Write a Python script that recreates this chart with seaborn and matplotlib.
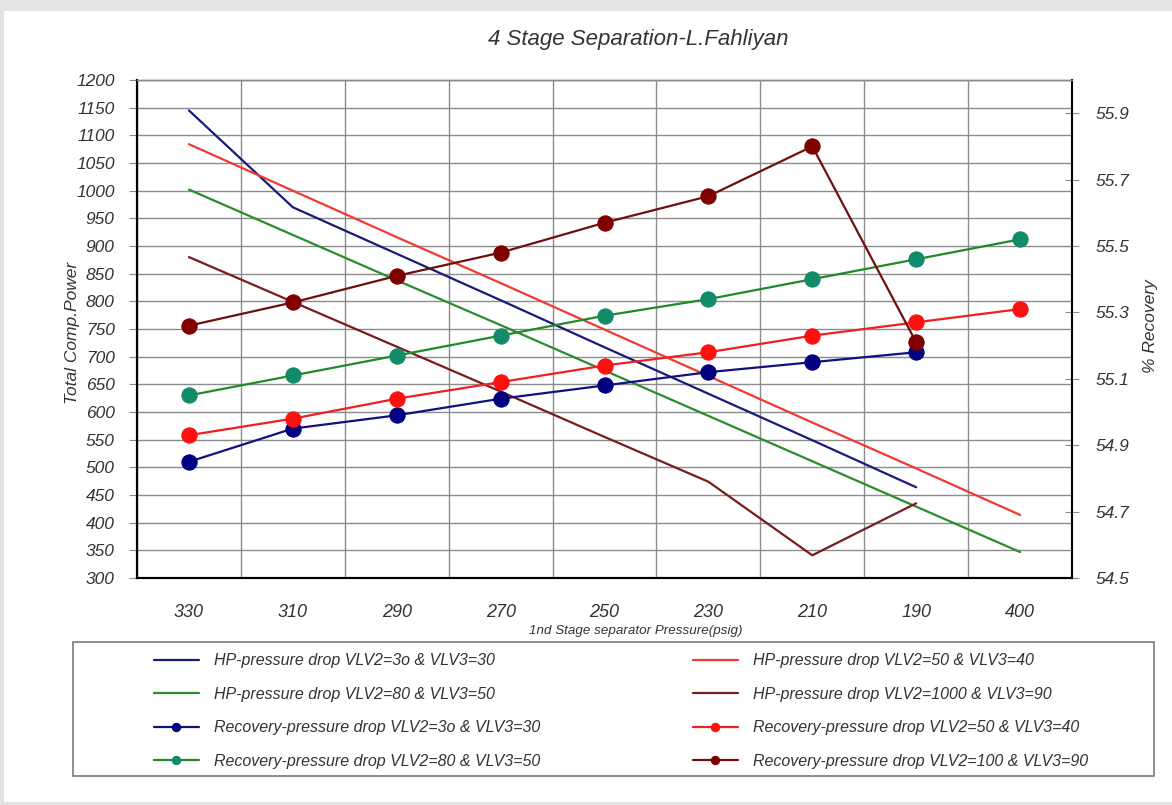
import numpy as np
import matplotlib
matplotlib.use("Agg")
import matplotlib.pyplot as plt
import matplotlib.patches as mpatches
import seaborn as sns

# ---- data ----
pressure_labels = ["330", "310", "290", "270", "250", "230", "210", "190", "400"]

# Total Comp. Power (left axis)
hp_30_30 = [1145, 970, 886, 802, 717, 633, 549, 464, np.nan]
hp_50_40 = [1084, 1000, 916, 833, 749, 665, 581, 498, 414]
hp_80_50 = [1002, 920, 838, 757, 675, 593, 511, 429, 347]
hp_1000_90 = [880, 799, 718, 637, 555, 474, 341, 435, np.nan]

# % Recovery (right axis)
rec_30_30 = [54.85, 54.95, 54.99, 55.04, 55.08, 55.12, 55.15, 55.18, np.nan]
rec_50_40 = [54.93, 54.98, 55.04, 55.09, 55.14, 55.18, 55.23, 55.27, 55.31]
rec_80_50 = [55.05, 55.11, 55.17, 55.23, 55.29, 55.34, 55.40, 55.46, 55.52]
rec_100_90 = [55.26, 55.33, 55.41, 55.48, 55.57, 55.65, 55.80, 55.21, np.nan]

# ---- style ----
sns.set_style("white")
plt.rcParams["font.family"] = ["Liberation Sans", "DejaVu Sans"]
TXT = "#333333"
GRID = "#8c8c8c"

W, H = 1172, 805
fig = plt.figure(figsize=(W / 100, H / 100), dpi=100, facecolor="#e3e3e3")
fig.patches.append(mpatches.Rectangle((4 / W, 1 - 802 / H), 1, (802 - 11) / H,
                                      transform=fig.transFigure, facecolor="white",
                                      edgecolor="none", zorder=-10))

ax = fig.add_axes([137 / W, 1 - 578 / H, (1072 - 137) / W, (578 - 80) / H])
ax2 = ax.twinx()

x = np.arange(len(pressure_labels))

hp_series = [
    (hp_30_30, "#1a1a7a", "HP-pressure drop VLV2=3o & VLV3=30"),
    (hp_80_50, "#2a8c2a", "HP-pressure drop VLV2=80 & VLV3=50"),
    (hp_50_40, "#f03a32", "HP-pressure drop VLV2=50 & VLV3=40"),
    (hp_1000_90, "#7a1c1c", "HP-pressure drop VLV2=1000 & VLV3=90"),
]
rec_series = [
    (rec_30_30, "#101080", "#000080", "Recovery-pressure drop VLV2=3o & VLV3=30"),
    (rec_80_50, "#1f8a2a", "#138a6a", "Recovery-pressure drop VLV2=80 & VLV3=50"),
    (rec_50_40, "#f02020", "#ff1010", "Recovery-pressure drop VLV2=50 & VLV3=40"),
    (rec_100_90, "#6e1010", "#800000", "Recovery-pressure drop VLV2=100 & VLV3=90"),
]

handles = {}
for vals, col, lab in hp_series:
    sns.lineplot(x=x, y=vals, ax=ax, color=col, linewidth=1.6, legend=False)
    handles[lab] = ax.lines[-1]
for vals, lcol, mcol, lab in rec_series:
    sns.lineplot(x=x, y=vals, ax=ax2, color=lcol, linewidth=1.6, marker="o",
                 markersize=11, markerfacecolor=mcol, markeredgecolor=mcol,
                 legend=False)
    handles[lab] = ax2.lines[-1]

# ---- axes ----
ax.set_xlim(-0.5, len(pressure_labels) - 0.5)
ax.set_ylim(300, 1200)
ax.set_yticks(np.arange(300, 1201, 50))
ax.set_xticks(x)
ax.set_xticklabels(pressure_labels, fontstyle="italic", fontsize=13, color=TXT)
ax.set_xticks(np.arange(-0.5, len(pressure_labels), 1), minor=True)
ax.tick_params(axis="x", which="major", length=0, pad=19)
ax.tick_params(axis="x", which="minor", length=5, direction="out", color="black")
ax.tick_params(axis="y", length=6, direction="out", color=GRID, pad=10,
               labelsize=12.5, labelcolor=TXT)
for t in ax.get_yticklabels():
    t.set_fontstyle("italic")

ax.yaxis.grid(True, color=GRID, linewidth=1)
ax.xaxis.grid(True, which="minor", color=GRID, linewidth=1)
ax.xaxis.grid(False, which="major")
ax.set_axisbelow(True)

ax2.set_ylim(54.5, 56.0)
ax2.set_yticks(np.round(np.arange(54.5, 55.91, 0.2), 1))
ax2.tick_params(axis="y", length=10, direction="inout", color=GRID, pad=12,
                labelsize=12.5, labelcolor=TXT)
for t in ax2.get_yticklabels():
    t.set_fontstyle("italic")
ax2.grid(False)

for a in (ax, ax2):
    for s in ("left", "bottom", "right"):
        a.spines[s].set_color("black")
        a.spines[s].set_linewidth(1.5)
    a.spines["top"].set_color(GRID)
    a.spines["top"].set_linewidth(1)
ax.spines["right"].set_visible(False)

# ---- texts ----
fig.text(638 / W, 1 - 40 / H, "4 Stage Separation-L.Fahliyan", ha="center", va="center",
         fontsize=16, fontstyle="italic", color=TXT)
fig.text(636 / W, 1 - 631 / H, "1nd Stage separator Pressure(psig)", ha="center",
         va="center", fontsize=9.6, fontstyle="italic", color=TXT)
fig.text(73 / W, 1 - 333 / H, "Total Comp.Power", ha="center", va="center",
         rotation=90, fontsize=12.5, fontstyle="italic", color=TXT)
fig.text(1150 / W, 1 - 326 / H, "% Recovery", ha="center", va="center",
         rotation=90, fontsize=12.5, fontstyle="italic", color=TXT)

# ---- legend ----
fig.patches.append(mpatches.Rectangle((73 / W, 1 - 776 / H), (1154 - 73) / W, (776 - 642) / H,
                                      transform=fig.transFigure, facecolor="white",
                                      edgecolor="#7a7a7a", linewidth=1.2, zorder=-5))
labels = list(handles.keys())
col1 = [labels[0], labels[1], labels[4], labels[5]]
col2 = [labels[2], labels[3], labels[6], labels[7]]
leg_kw = dict(frameon=False, loc="upper left", handlelength=2.8, handletextpad=0.95,
              labelspacing=1.15, borderaxespad=0, borderpad=0,
              prop={"style": "italic", "size": 11.5})
for cols, x0 in ((col1, 154), (col2, 693)):
    leg = fig.legend([handles[k] for k in cols], cols, bbox_to_anchor=(x0 / W, 1 - 653.5 / H),
                     **leg_kw)
    for t in leg.get_texts():
        t.set_color(TXT)
    for h in leg.legend_handles:
        h.set_markersize(6)

fig.savefig("out.png", dpi=100, facecolor=fig.get_facecolor())
